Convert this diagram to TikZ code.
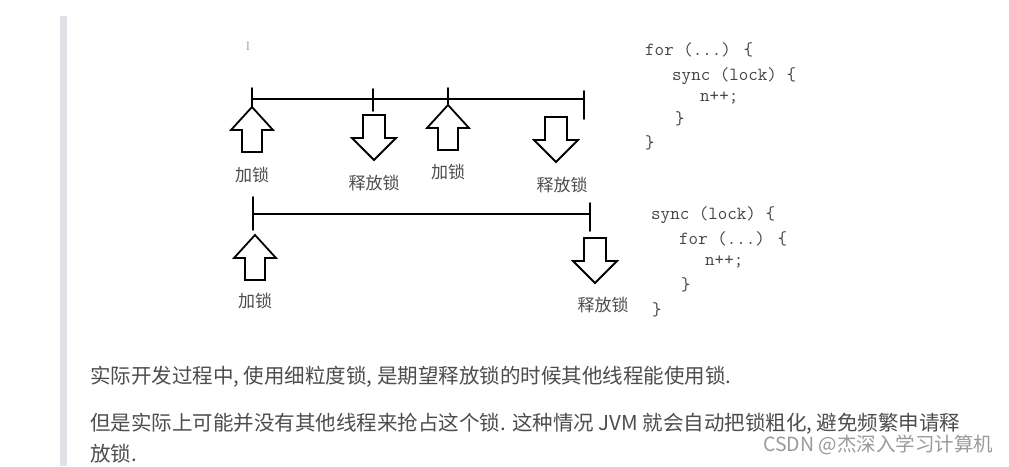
\documentclass[tikz,border=0pt]{standalone}
\usepackage{fontspec}
\usepackage{tikz}
\usepackage{tkz-euclide}
\usepackage[dvipsnames]{xcolor}
\newfontfamily\cjk{Noto Sans CJK SC}
\definecolor{codegray}{HTML}{444444}
\definecolor{textgray}{HTML}{4D4D4D}
\definecolor{bargray}{HTML}{DFE2E6}
\definecolor{markgray}{HTML}{9A9A9A}
\tikzset{
  arrowline/.style={draw=black,line width=1.8pt,line join=miter,fill=white},
  lockup/.pic={\path[arrowline] (0,0) -- (21,23) -- (10,23) -- (10,45) -- (-10,45) -- (-10,23) -- (-21,23) -- cycle;},
  lockdown/.pic={\path[arrowline] (-11,0) -- (11,0) -- (11,23) -- (22,23) -- (0,45) -- (-22,23) -- (-11,23) -- cycle;},
  steplabel/.style={font=\cjk\fontsize{17}{20}\selectfont,text=textgray,inner sep=0pt},
  codeline/.style={font=\ttfamily\fontsize{18.5}{20}\selectfont,text=codegray,anchor=west,inner sep=0pt},
  paraline/.style={font=\cjk\fontsize{20.5}{24}\selectfont,text=textgray,anchor=west,inner sep=0pt}
}

\begin{document}
\begin{tikzpicture}[x=1pt,y=-1pt]
    \useasboundingbox[fill=white] (0,0) rectangle (1009,466);
    \fill[bargray] (60,16) rectangle (67,466);
    \node[font=\rmfamily\fontsize{12}{12}\selectfont,text=markgray] (cursor) at (248,46) {I};

    \tkzDefPoint(252,99){A}
    \tkzDefPoint(584,99){B}
    \tkzDefPoint(252,88){A1}
    \tkzDefPoint(252,107){A2}
    \tkzDefPoint(373,89){R1}
    \tkzDefPoint(373,111){R2}
    \tkzDefPoint(448,88){L1}
    \tkzDefPoint(448,105){L2}
    \tkzDefPoint(584,91){B1}
    \tkzDefPoint(584,119){B2}
    \tkzDrawSegment[line width=2.2pt,color=black](A,B)
    \tkzDrawSegments[line width=1.8pt,color=black](A1,A2 R1,R2 L1,L2 B1,B2)

    \tkzDefPoint(253,214){C}
    \tkzDefPoint(590,214){D}
    \tkzDefPoint(253,197){C1}
    \tkzDefPoint(253,230){C2}
    \tkzDefPoint(590,203){D1}
    \tkzDefPoint(590,231){D2}
    \tkzDrawSegment[line width=2.2pt,color=black](C,D)
    \tkzDrawSegments[line width=1.8pt,color=black](C1,C2 D1,D2)

    \pic at (252,107) {lockup};
    \pic at (374,115) {lockdown};
    \pic at (448,105) {lockup};
    \pic at (556,117) {lockdown};
    \pic at (255,235) {lockup};
    \pic at (595,238) {lockdown};

    \node[steplabel] (lockA) at (252,175) {加锁};
    \node[steplabel] (freeA) at (374,183) {释放锁};
    \node[steplabel] (lockB) at (448,172) {加锁};
    \node[steplabel] (freeB) at (562,185) {释放锁};
    \node[steplabel] (lockC) at (255,301) {加锁};
    \node[steplabel] (freeC) at (603,305) {释放锁};

    \node[codeline] (fa) at (645,50) {for (...) \{};
    \node[codeline] (fb) at (672,76) {sync (lock) \{};
    \node[codeline] (fc) at (700,98) {n++;};
    \node[codeline] (fd) at (675,119) {\}};
    \node[codeline] (fe) at (645,143) {\}};

    \node[codeline] (sa) at (651,215) {sync (lock) \{};
    \node[codeline] (sb) at (679,239) {for (...) \{};
    \node[codeline] (sc) at (705,262) {n++;};
    \node[codeline] (sd) at (681,285) {\}};
    \node[codeline] (se) at (652,310) {\}};

    \node[paraline] (para1) at (90,377) {实际开发过程中, 使用细粒度锁, 是期望释放锁的时候其他线程能使用锁.};
    \node[paraline] (para2) at (90,424) {但是实际上可能并没有其他线程来抢占这个锁. 这种情况 JVM 就会自动把锁粗化, 避免频繁申请释};
    \node[paraline] (para3) at (90,454) {放锁.};
    \node[font=\cjk\fontsize{19.5}{22}\selectfont,text=markgray,anchor=west,inner sep=0pt] (mark) at (763,445) {CSDN @杰深入学习计算机};
  \end{tikzpicture}
\end{document}
